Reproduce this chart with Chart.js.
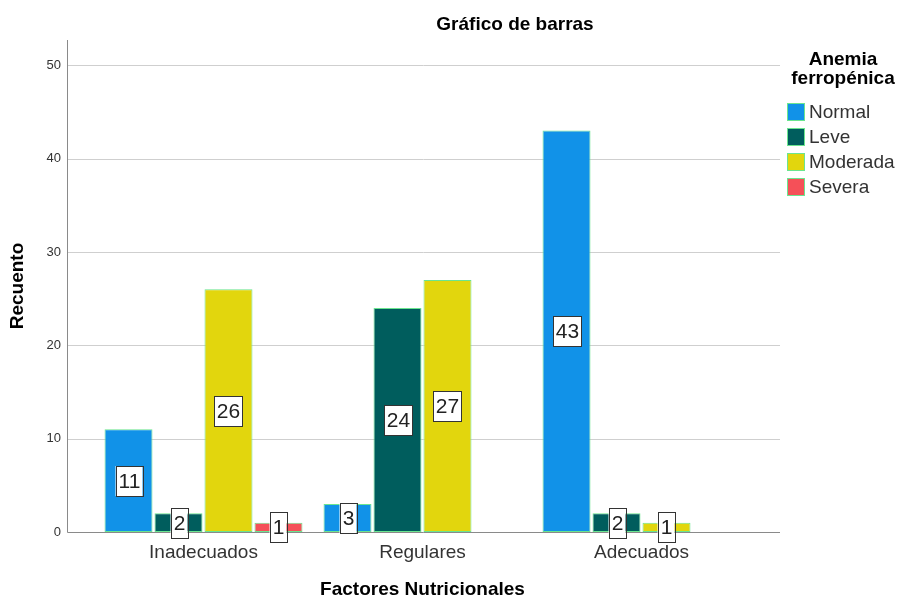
<!DOCTYPE html>
<html>
<head>
<meta charset="utf-8">
<script src="https://cdn.jsdelivr.net/npm/chart.js@4"></script>
<style>
    html, body { margin: 0; padding: 0; background: #fff; }
    #wrap { width: 902px; height: 601px; }
</style>
</head>
<body>
<div id="wrap"><canvas id="bar-anemia"></canvas></div>
<script>
var categorias = ['Inadecuados', 'Regulares', 'Adecuados'];
var normal = [11, 3, 43];
var leve = [2, 24, 2];
var moderada = [26, 27, 1];
var severa = [1, 0, 0];
var yTicks = [0, 10, 20, 30, 40, 50];

var FONT = "'Liberation Sans', Arial, sans-serif";
var bordeVerde = '#6be58f';

// gridlines and axis lines reach past the bars, like in SPSS
const ejesPlugin = {
    id: 'ejes',
    beforeDatasetsDraw(chart) {
        const ctx = chart.ctx;
        const area = chart.chartArea;
        const y = chart.scales.y;
        const x0 = area.left - 27, x1 = area.right + 29;
        ctx.save();
        ctx.lineWidth = 1;
        ctx.strokeStyle = '#cfcfcf';
        yTicks.forEach(function(v) {
            if (v === 0) return;
            const py = Math.round(y.getPixelForValue(v)) + 0.5;
            ctx.beginPath();
            ctx.moveTo(x0, py);
            ctx.lineTo(x1, py);
            ctx.stroke();
        });
        ctx.strokeStyle = '#8a8a8a';
        const by = Math.round(area.bottom) + 0.5;
        ctx.beginPath();
        ctx.moveTo(x0 + 0.5, area.top);
        ctx.lineTo(x0 + 0.5, by);
        ctx.lineTo(x1, by);
        ctx.stroke();
        ctx.restore();
    }
};

// boxed value labels in the middle of each bar
const etiquetasPlugin = {
    id: 'etiquetas',
    afterDatasetsDraw(chart) {
        const ctx = chart.ctx;
        ctx.save();
        ctx.font = '21px ' + FONT;
        ctx.textAlign = 'center';
        ctx.textBaseline = 'middle';
        chart.data.datasets.forEach(function(ds, i) {
            chart.getDatasetMeta(i).data.forEach(function(bar, j) {
                const v = ds.data[j];
                if (!v) return;
                const cx = Math.round(bar.x);
                const cy = Math.round((bar.y + bar.base) / 2);
                const w = Math.round(ctx.measureText(String(v)).width) + 5;
                const h = 30;
                ctx.fillStyle = '#fff';
                ctx.fillRect(cx - w / 2, cy - h / 2, w, h);
                ctx.strokeStyle = '#333';
                ctx.lineWidth = 1;
                ctx.strokeRect(Math.round(cx - w / 2) + 0.5, cy - h / 2 + 0.5, w, h);
                ctx.fillStyle = '#222';
                ctx.fillText(String(v), cx + 0.5, cy + 1);
            });
        });
        ctx.restore();
    }
};

// title and legend placed where SPSS puts them
const leyendaPlugin = {
    id: 'leyenda',
    afterDraw(chart) {
        const ctx = chart.ctx;
        ctx.save();
        ctx.fillStyle = '#000';
        ctx.textAlign = 'center';
        ctx.textBaseline = 'middle';
        ctx.font = 'bold 19px ' + FONT;
        ctx.fillText('Gráfico de barras', 515, 25);
        ctx.fillText('Anemia', 843, 60);
        ctx.fillText('ferropénica', 843, 79);

        ctx.textAlign = 'left';
        ctx.font = '19px ' + FONT;
        chart.data.datasets.forEach(function(ds, i) {
            const cy = 112 + i * 25;
            ctx.fillStyle = ds.backgroundColor;
            ctx.fillRect(787, cy - 9, 18, 18);
            ctx.strokeStyle = bordeVerde;
            ctx.lineWidth = 1;
            ctx.strokeRect(787.5, cy - 8.5, 17, 17);
            ctx.fillStyle = '#333';
            ctx.fillText(ds.label, 809, cy + 1);
        });
        ctx.restore();
    }
};

new Chart(document.getElementById('bar-anemia'), {
    type: 'bar',
    data: {
        labels: categorias,
        datasets: [
            { label: 'Normal', data: normal, backgroundColor: '#1192e8' },
            { label: 'Leve', data: leve, backgroundColor: '#005d5d' },
            { label: 'Moderada', data: moderada, backgroundColor: '#e2d60d' },
            { label: 'Severa', data: severa, backgroundColor: '#f55058' }
        ]
    },
    options: {
        responsive: true,
        maintainAspectRatio: false,
        animation: false,
        datasets: {
            bar: {
                borderColor: bordeVerde,
                borderWidth: 1,
                borderSkipped: false,
                categoryPercentage: 0.913,
                barPercentage: 0.96
            }
        },
        layout: {
            padding: { top: 40, right: 151, left: 2, bottom: 0 }
        },
        plugins: {
            legend: { display: false },
            title: { display: false },
            tooltip: { enabled: false }
        },
        scales: {
            x: {
                afterFit: function(scale) { scale.height = 69; },
                grid: { display: false },
                border: { display: false },
                ticks: { color: '#333', padding: 1, font: { family: FONT, size: 19 } },
                title: {
                    display: true,
                    text: 'Factores Nutricionales',
                    color: '#000',
                    font: { family: FONT, size: 19, weight: 'bold' },
                    padding: { top: 4, bottom: 0 }
                }
            },
            y: {
                min: 0,
                max: 52.7,
                afterBuildTicks: function(axis) {
                    axis.ticks = yTicks.map(function(v) { return { value: v }; });
                },
                afterFit: function(scale) { scale.width = 92; },
                grid: { display: false },
                border: { display: false },
                ticks: { color: '#333', padding: 25, font: { family: FONT, size: 13 } },
                title: {
                    display: true,
                    text: 'Recuento',
                    color: '#000',
                    font: { family: FONT, size: 19, weight: 'bold' },
                    padding: { top: 4, bottom: 0 }
                }
            }
        }
    },
    plugins: [ejesPlugin, etiquetasPlugin, leyendaPlugin]
});
</script>
</body>
</html>
